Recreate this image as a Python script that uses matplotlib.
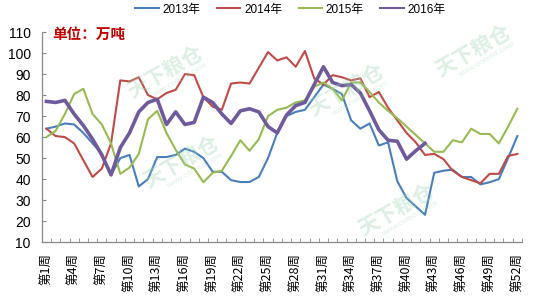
import matplotlib
matplotlib.use("Agg")
import matplotlib.pyplot as plt
from matplotlib.ticker import FixedLocator

plt.rcParams['font.family'] = ['Liberation Sans', 'Noto Sans CJK SC', 'DejaVu Sans']

weeks = list(range(1, 53))
tick_weeks = list(range(1, 53, 3))
tick_labels = ['第%d周' % w for w in tick_weeks]

y2013 = [64, 65, 66.5, 66, 62, 57, 52, 42, 50, 51.5, 36.5, 40, 50.5,
         50.5, 51.5, 54.5, 53, 50, 43.5, 43.5, 39.5, 38.6, 38.6, 41, 50, 62,
         70, 72, 73, 79, 85, 83, 80.5, 68, 64, 66.5, 56, 57.5, 39, 31,
         27, 23, 43, 44, 44.5, 41, 41, 37.5, 38.5, 40, 50, 60.5]
y2014 = [64, 60.5, 60, 57, 49, 41, 45, 57, 87, 86.5, 88.5, 80, 78,
         81, 82.5, 90, 89.5, 79, 74.5, 73, 85.5, 86, 85.5, 93, 100.5, 96.5,
         98, 93.5, 101, 88, 85, 89.5, 88.5, 87, 88, 79, 81.5, 74, 68, 62,
         57.5, 51.5, 52, 49.5, 44, 41, 39.5, 38, 42.5, 42.5, 51, 52]
y2015 = [60, 63, 71, 80.5, 83, 71, 66, 57, 42.5, 45.5, 52, 68.5, 72.5,
         62, 54, 47, 45, 38.5, 43, 44, 51, 58.5, 53.5, 59, 70, 73,
         74, 76.5, 77.5, 84, 86, 83, 77.5, 86, 86, 81.5, 76.5, 72.5, 69, 65,
         61, 57, 53, 53, 58.5, 57.5, 64, 61.5, 61.5, 57, 65, 73.5]
y2016 = [77, 76.5, 77.5, 71, 65.5, 59, 51.5, 42, 55, 62, 72, 76.5, 78,
         66, 72, 66, 67, 79, 76.5, 71, 66.5, 72.5, 73.5, 72, 65, 62,
         70.5, 75, 76.5, 85, 93.5, 86, 84.5, 85, 81, 72.5, 63.5, 58.5, 58, 49.5,
         53.5, 57]

fig = plt.figure(figsize=(5.5, 3.0), dpi=100)
ax = fig.add_axes([0.076, 0.193, 0.873, 0.70])

# faint watermarks
wm = [(0.30, 0.76), (0.33, 0.46), (0.63, 0.70), (0.86, 0.83), (0.72, 0.30)]
for wx, wy in wm:
    fig.text(wx, wy, '天下粮仓', fontsize=15, color='#9fd3b0', alpha=0.35,
             rotation=30, ha='center', va='center',
             family=['Noto Sans CJK SC'], fontweight='bold', zorder=0)
    fig.text(wx + 0.025, wy - 0.03, 'www.cofeed.com', fontsize=6, color='#9fd3b0',
             alpha=0.35, rotation=30, ha='center', va='center', zorder=0)

ax.plot(weeks, y2013, color='#4a7ebb', lw=1.5, label='2013年')
ax.plot(weeks, y2014, color='#be4b48', lw=1.5, label='2014年')
ax.plot(weeks, y2015, color='#98b954', lw=1.5, label='2015年')
ax.plot(weeks[:len(y2016)], y2016, color='#6f5a9c', lw=2.6, label='2016年')
ax.patch.set_alpha(0)

ax.set_xlim(0.5, 52.5)
ax.set_ylim(10, 110)
ax.set_yticks(range(10, 111, 10))
ax.set_xticks(tick_weeks)
ax.set_xticklabels(tick_labels, rotation=90, fontsize=9,
                   family=['Noto Sans CJK SC'])
ax.xaxis.set_minor_locator(FixedLocator([w + 0.5 for w in range(0, 53)]))
ax.tick_params(axis='x', which='major', length=0, pad=8)
ax.tick_params(axis='x', which='minor', length=3, direction='in', color='#888888')
ax.tick_params(axis='y', length=3, direction='in', color='#888888',
               labelsize=10, pad=8)

for s in ['top', 'right']:
    ax.spines[s].set_visible(False)
for s in ['left', 'bottom']:
    ax.spines[s].set_color('#888888')
    ax.spines[s].set_linewidth(0.9)

ax.text(0.022, 0.99, '单位：万吨', transform=ax.transAxes, fontsize=10.5,
        color='#c00000', fontweight='bold', family=['Noto Sans CJK SC'],
        ha='left', va='center')

leg = fig.legend(loc='center', bbox_to_anchor=(0.528, 0.968), ncol=4,
                 frameon=False, handlelength=2.0,
                 handletextpad=0.3, columnspacing=1.4,
                 prop={'family': ['Liberation Sans', 'Noto Sans CJK SC'], 'size': 8.5})
for line in leg.get_lines():
    line.set_linewidth(1.5)

fig.savefig('out.png', dpi=100)
